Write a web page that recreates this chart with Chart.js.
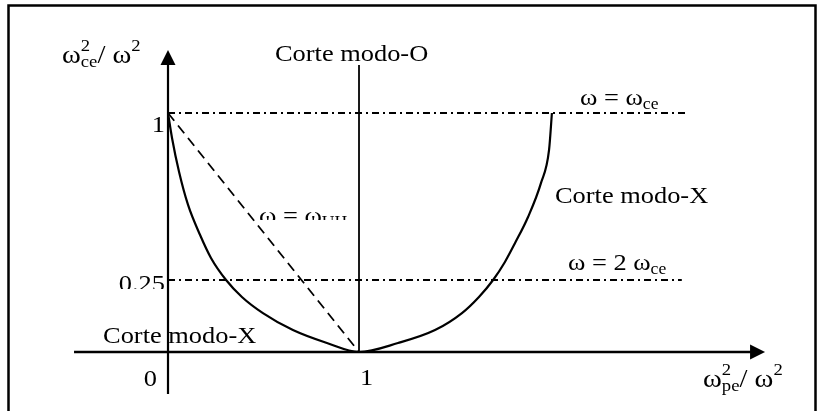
<!DOCTYPE html>
<html>
<head>
<meta charset="utf-8">
<title>Cortes modo-O / modo-X</title>
<script src="https://cdn.jsdelivr.net/npm/chart.js@4.4.1/dist/chart.umd.min.js"></script>
<style>
  body { margin: 0; background: #fff; }
  #wrap { width: 821px; height: 411px; }
</style>
</head>
<body>
<div id="wrap"><canvas id="mycanvas" width="821" height="411"></canvas></div>
<script>
// X-mode cutoff curve (ω²pe/ω², ω²ce/ω²)
var xCutX = [0, 0.021, 0.058, 0.105, 0.168, 0.225, 0.304, 0.387, 0.497, 0.654, 0.832, 1,
             1.204, 1.398, 1.539, 1.628, 1.702, 1.764, 1.817, 1.885, 1.953, 1.995, 2.01];
var xCutY = [1, 0.888, 0.735, 0.587, 0.452, 0.349, 0.25, 0.191, 0.135, 0.076, 0.031, 0,
             0.031, 0.076, 0.135, 0.191, 0.25, 0.331, 0.416, 0.533, 0.686, 0.834, 1];

// upper hybrid line
var uhX = [0, 1];
var uhY = [1, 0];

// O-mode cutoff
var oCutX = [1, 1];
var oCutY = [0, 1.215];

// ω = ωce and ω = 2ωce levels
var wceX = [0, 2.707];
var wceY = [1, 1];
var w2ceX = [0, 2.69];
var w2ceY = [0.25, 0.25];

// tick labels
var yTicks = [1, 0.25];
var yTickLabels = ["1", "0.25"];
var xTicks = [0, 1];
var xTickLabels = ["0", "1"];

function pts(xs, ys) {
    return xs.map(function(x, i) { return { x: x, y: ys[i] }; });
}

// the y axis in the figure is not drawn to scale: the 0.25 step is stretched
var Y_KNOT = 0.25, Y_KNOT_POS = 0.30126;
function warp(v) {
    if (v <= Y_KNOT) return v * Y_KNOT_POS / Y_KNOT;
    return Y_KNOT_POS + (v - Y_KNOT) * (1 - Y_KNOT_POS) / (1 - Y_KNOT);
}
function unwarp(d) {
    if (d <= Y_KNOT_POS) return d * Y_KNOT / Y_KNOT_POS;
    return Y_KNOT + (d - Y_KNOT_POS) * (1 - Y_KNOT) / (1 - Y_KNOT_POS);
}

class WarpScale extends Chart.LinearScale {
    getPixelForValue(value) {
        return value === null ? NaN : super.getPixelForValue(warp(value));
    }
    getValueForPixel(pixel) {
        return unwarp(super.getValueForPixel(pixel));
    }
}
WarpScale.id = 'warp';
WarpScale.defaults = Chart.LinearScale.defaults;
Chart.register(WarpScale);

var FONT = '"Liberation Serif", "Times New Roman", serif';

function drawRuns(ctx, parts, x, y, align) {
    var cx = x, total = 0;
    parts.forEach(function(p) {
        ctx.font = p.s + 'px ' + FONT;
        if (!p.stack) total += ctx.measureText(p.t).width * 1.1;
    });
    if (align === 'right') cx = x - total;
    parts.forEach(function(p) {
        ctx.font = p.s + 'px ' + FONT;
        ctx.save();
        ctx.translate(cx, y + (p.dy || 0));
        ctx.scale(1.1, 1);
        ctx.fillText(p.t, 0, 0);
        ctx.restore();
        if (!p.stack) cx += ctx.measureText(p.t).width * 1.1;
    });
}

var figure = {
    id: 'figure',
    beforeDraw: function(chart) {
        var ctx = chart.ctx;
        ctx.save();
        ctx.fillStyle = '#fff';
        ctx.fillRect(0, 0, chart.width, chart.height);
        ctx.restore();
    },
    afterDraw: function(chart) {
        var ctx = chart.ctx;
        var xs = chart.scales.x, ys = chart.scales.y;
        var X = function(v) { return xs.getPixelForValue(v); };
        var Y = function(v) { return ys.getPixelForValue(v); };

        ctx.save();
        ctx.strokeStyle = '#000';
        ctx.fillStyle = '#000';
        ctx.textBaseline = 'alphabetic';

        // frame
        ctx.lineWidth = 2.5;
        ctx.beginPath();
        ctx.moveTo(8.5, chart.height);
        ctx.lineTo(8.5, 5.5);
        ctx.lineTo(815.5, 5.5);
        ctx.lineTo(815.5, chart.height);
        ctx.stroke();

        // axes
        var ox = X(0), oy = Y(0);
        var yTop = Y(1.283), xEnd = X(3.126);
        ctx.lineWidth = 2.2;
        ctx.beginPath();
        ctx.moveTo(ox, Y(-0.146));
        ctx.lineTo(ox, yTop + 10);
        ctx.stroke();
        ctx.lineWidth = 2.6;
        ctx.beginPath();
        ctx.moveTo(X(-0.492), oy);
        ctx.lineTo(xEnd - 10, oy);
        ctx.stroke();

        // arrow heads
        ctx.beginPath();
        ctx.moveTo(ox, yTop);
        ctx.lineTo(ox - 7.5, yTop + 15);
        ctx.lineTo(ox + 7.5, yTop + 15);
        ctx.closePath();
        ctx.fill();
        ctx.beginPath();
        ctx.moveTo(xEnd, oy);
        ctx.lineTo(xEnd - 15, oy - 7.5);
        ctx.lineTo(xEnd - 15, oy + 7.5);
        ctx.closePath();
        ctx.fill();

        // y tick labels (the 0.25 one is cut off at the bottom)
        var yOff = [19, 11];
        yTicks.forEach(function(v, i) {
            ctx.save();
            if (v === 0.25) {
                ctx.beginPath();
                ctx.rect(0, 0, chart.width, Y(v) + 9);
                ctx.clip();
            }
            drawRuns(ctx, [{ t: yTickLabels[i], s: 24 }], ox - 3, Y(v) + yOff[i], 'right');
            ctx.restore();
        });

        // x tick labels
        drawRuns(ctx, [{ t: xTickLabels[0], s: 24 }], X(xTicks[0]) - 11, oy + 34, 'right');
        drawRuns(ctx, [{ t: xTickLabels[1], s: 24 }], X(xTicks[1]) + 1, oy + 33);

        // axis titles
        drawRuns(ctx, [
            { t: 'ω', s: 26 },
            { t: '2', s: 17, dy: -12, stack: true },
            { t: 'ce', s: 17, dy: 4 },
            { t: '/ ω', s: 26 },
            { t: '2', s: 17, dy: -12 }
        ], X(-0.555), Y(1.2245));
        drawRuns(ctx, [
            { t: 'ω', s: 26 },
            { t: '2', s: 17, dy: -12, stack: true },
            { t: 'pe', s: 17, dy: 4 },
            { t: '/ ω', s: 26 },
            { t: '2', s: 17, dy: -12 }
        ], X(2.801), Y(-0.1215));

        // annotations
        drawRuns(ctx, [{ t: 'Corte modo-O', s: 24 }], X(0.56), Y(1.2335));
        drawRuns(ctx, [{ t: 'Corte modo-X', s: 24 }], X(2.026), Y(0.596));
        drawRuns(ctx, [{ t: 'Corte modo-X', s: 24 }], X(-0.34), Y(0.031));
        drawRuns(ctx, [{ t: 'ω = ω', s: 24 }, { t: 'ce', s: 16, dy: 4 }], X(2.157), Y(1.036));
        drawRuns(ctx, [{ t: 'ω = 2 ω', s: 24 }, { t: 'ce', s: 16, dy: 4 }], X(2.094), Y(0.295));

        // upper hybrid label, only its top half shows
        ctx.save();
        ctx.beginPath();
        ctx.rect(0, 0, chart.width, Y(0.519));
        ctx.clip();
        drawRuns(ctx, [{ t: 'ω = ω', s: 24 }, { t: 'UH', s: 16, dy: 4 }], X(0.476), Y(0.506));
        ctx.restore();

        ctx.restore();
    }
};

var dashDot = [7, 4, 2, 4];

var chartdata = {
    datasets: [{
        label: 'Corte modo-X',
        data: pts(xCutX, xCutY),
        borderColor: '#000',
        borderWidth: 2.2,
        cubicInterpolationMode: 'monotone'
    }, {
        label: 'ω = ωUH',
        data: pts(uhX, uhY),
        borderColor: '#000',
        borderWidth: 1.8,
        borderDash: [10, 6]
    }, {
        label: 'Corte modo-O',
        data: pts(oCutX, oCutY),
        borderColor: '#000',
        borderWidth: 1.8
    }, {
        label: 'ω = ωce',
        data: pts(wceX, wceY),
        borderColor: '#000',
        borderWidth: 1.8,
        borderDash: dashDot
    }, {
        label: 'ω = 2 ωce',
        data: pts(w2ceX, w2ceY),
        borderColor: '#000',
        borderWidth: 1.8,
        borderDash: dashDot
    }]
};

var ctx = document.getElementById('mycanvas');

var cutoffChart = new Chart(ctx, {
    type: 'scatter',
    data: chartdata,
    options: {
        responsive: false,
        animation: false,
        showLine: true,
        elements: { point: { radius: 0, hoverRadius: 0 } },
        layout: { padding: 0 },
        plugins: { legend: { display: false }, tooltip: { enabled: false } },
        scales: {
            x: { type: 'linear', display: false, min: -0.8796, max: 3.4188 },
            y: { type: 'warp', display: false, min: -0.2469, max: 1.4728 }
        }
    },
    plugins: [figure]
});
</script>
</body>
</html>
